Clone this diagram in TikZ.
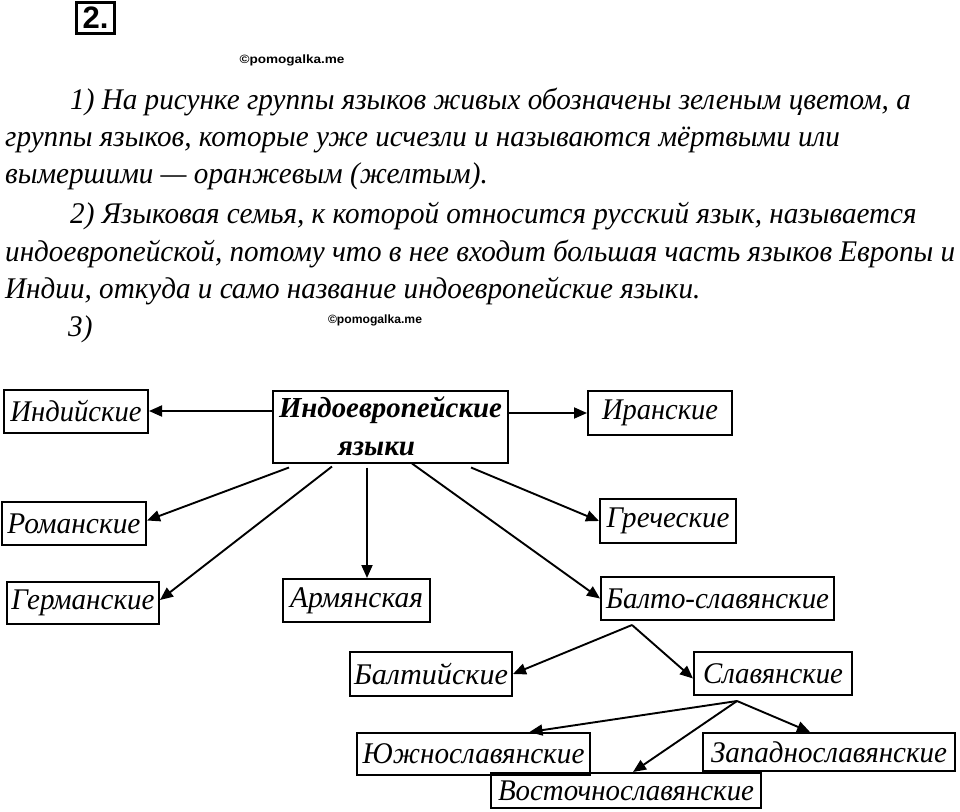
\documentclass[tikz,border=0pt]{standalone}
\usepackage{fontspec}
\usepackage{graphicx}
\setmainfont{Liberation Serif}
\newfontfamily\wmfont{Liberation Sans}
\usetikzlibrary{arrows.meta,calc}
\newcommand\fw[2]{\resizebox{#1pt}{\height}{#2}}
\newcommand\ptfont{\fontsize{30}{34}\selectfont\itshape}
\newcommand\bxfont{\fontsize{30}{32}\selectfont\itshape}
\newcommand\bxbold{\fontsize{29}{38}\selectfont\bfseries\itshape}
\newlength\reflen
\tikzset{
  ptext/.style={anchor=base west, inner sep=0pt, font=\ptfont},
  lbox/.style={draw, line width=2pt, inner sep=0pt, font=\bxfont, anchor=center},
  wm/.style={inner sep=0pt, font=\wmfont\bfseries\fontsize{12}{14}\selectfont},
  arr/.style={line width=1.9pt, -{Triangle[length=13pt,width=11pt]}}
}
\begin{document}
\settowidth\reflen{\ptfont индоевропейской, потому что в нее входит большая часть языков Европы и}%
\pgfmathsetmacro\sx{950/\reflen}%
\begin{tikzpicture}[x=1pt,y=-1pt]
\useasboundingbox[fill=white] (0,0) rectangle (960,811);

% header
\node[draw, line width=2.2pt, inner sep=0pt, minimum width=38, minimum height=31,
      font=\wmfont\bfseries\fontsize{31}{32}\selectfont] (num) at (95.5,18) {2.};
\node[wm] (w1) at (292,60) {\fw{105}{©pomogalka.me}};
\node[wm] (w2) at (375,320) {\fw{94}{©pomogalka.me}};

% paragraphs
\node[ptext] (p1) at (70,109) {\scalebox{\sx}[1]{1) На рисунке группы языков живых обозначены зеленым цветом, а}};
\node[ptext] (p2) at (5,146) {\scalebox{\sx}[1]{группы языков, которые уже исчезли и называются мёртвыми или}};
\node[ptext] (p3) at (5,183) {\scalebox{\sx}[1]{вымершими — оранжевым (желтым).}};
\node[ptext] (p4) at (70,223) {\scalebox{\sx}[1]{2) Языковая семья, к которой относится русский язык, называется}};
\node[ptext] (p5) at (5,261) {\scalebox{\sx}[1]{индоевропейской, потому что в нее входит большая часть языков Европы и}};
\node[ptext] (p6) at (5,298) {\scalebox{\sx}[1]{Индии, откуда и само название индоевропейские языки.}};
\node[ptext] (p7) at (68,336) {\scalebox{\sx}[1]{3)}};

% boxes
\node[lbox, font=\bxbold, minimum width=235, minimum height=72, align=center] (indo) at (390.5,426.5)
  {\fw{223}{Индоевропейские}\\\makebox[105pt][l]{\fw{77}{языки}}};
\node[lbox, minimum width=144, minimum height=43] (ind) at (76,411) {\fw{131}{Индийские}};
\node[lbox, minimum width=144, minimum height=44] (iran) at (660,413) {\fw{116}{Иранские}};
\node[lbox, minimum width=144, minimum height=43] (rom) at (74,523.5) {\fw{133}{Романские}};
\node[lbox, minimum width=136, minimum height=44] (greek) at (668,521) {\fw{123}{Греческие}};
\node[lbox, minimum width=152, minimum height=42] (germ) at (83,603) {\fw{143}{Германские}};
\node[lbox, minimum width=147, minimum height=43] (arm) at (356.5,600.5) {\fw{133}{Армянская}};
\node[lbox, minimum width=233, minimum height=43] (balto) at (717.5,598.5) {\fw{223}{Балто-славянские}};
\node[lbox, minimum width=162, minimum height=44] (balt) at (431,674) {\fw{154}{Балтийские}};
\node[lbox, minimum width=158, minimum height=43] (slav) at (773,673.5) {\fw{140}{Славянские}};
\node[lbox, minimum width=233, minimum height=42] (south) at (473.5,754) {\fw{222}{Южнославянские}};
\node[lbox, minimum width=252, minimum height=38] (west) at (829,752) {\fw{236}{Западнославянские}};
\node[lbox, minimum width=270, minimum height=35] (east) at (626,790.5) {\fw{256}{Восточнославянские}};

% connectors from the root
\draw[arr] (indo.west |- ind.east) -- (ind.east);
\draw[arr] (indo.east |- iran.west) -- (iran.west);
\coordinate (sR) at ($(indo.south west)+(17,4)$);
\coordinate (sG) at ($(indo.south west)+(60,3)$);
\coordinate (sA) at ($(indo.south west)+(95,4)$);
\coordinate (sB) at ($(indo.south west)+(140,0)$);
\coordinate (sK) at ($(indo.south west)+(199,4)$);
\draw[arr] (sR) -- ([yshift=3pt]rom.east);
\draw[arr] (sG) -- ([yshift=3pt]germ.east);
\draw[arr] (sA) -- (sA |- arm.north);
\draw[arr] (sK) -- (greek.west);
\draw[arr] (sB) -- (balto.west);

% Balto-Slavic
\coordinate (sBS) at ($(balto.south west)+(32,4)$);
\draw[arr] (sBS) -- (balt.east);
\draw[arr] (sBS) -- ([yshift=-5pt]slav.west);

% Slavic
\coordinate (sSL) at ($(slav.south)+(-36,5)$);
\draw[arr] (sSL) -- ([xshift=56pt]south.north);
\draw[arr] (sSL) -- ([xshift=7pt]east.north);
\draw[arr] (sSL) -- ([xshift=-19pt]west.north);
\end{tikzpicture}
\end{document}
